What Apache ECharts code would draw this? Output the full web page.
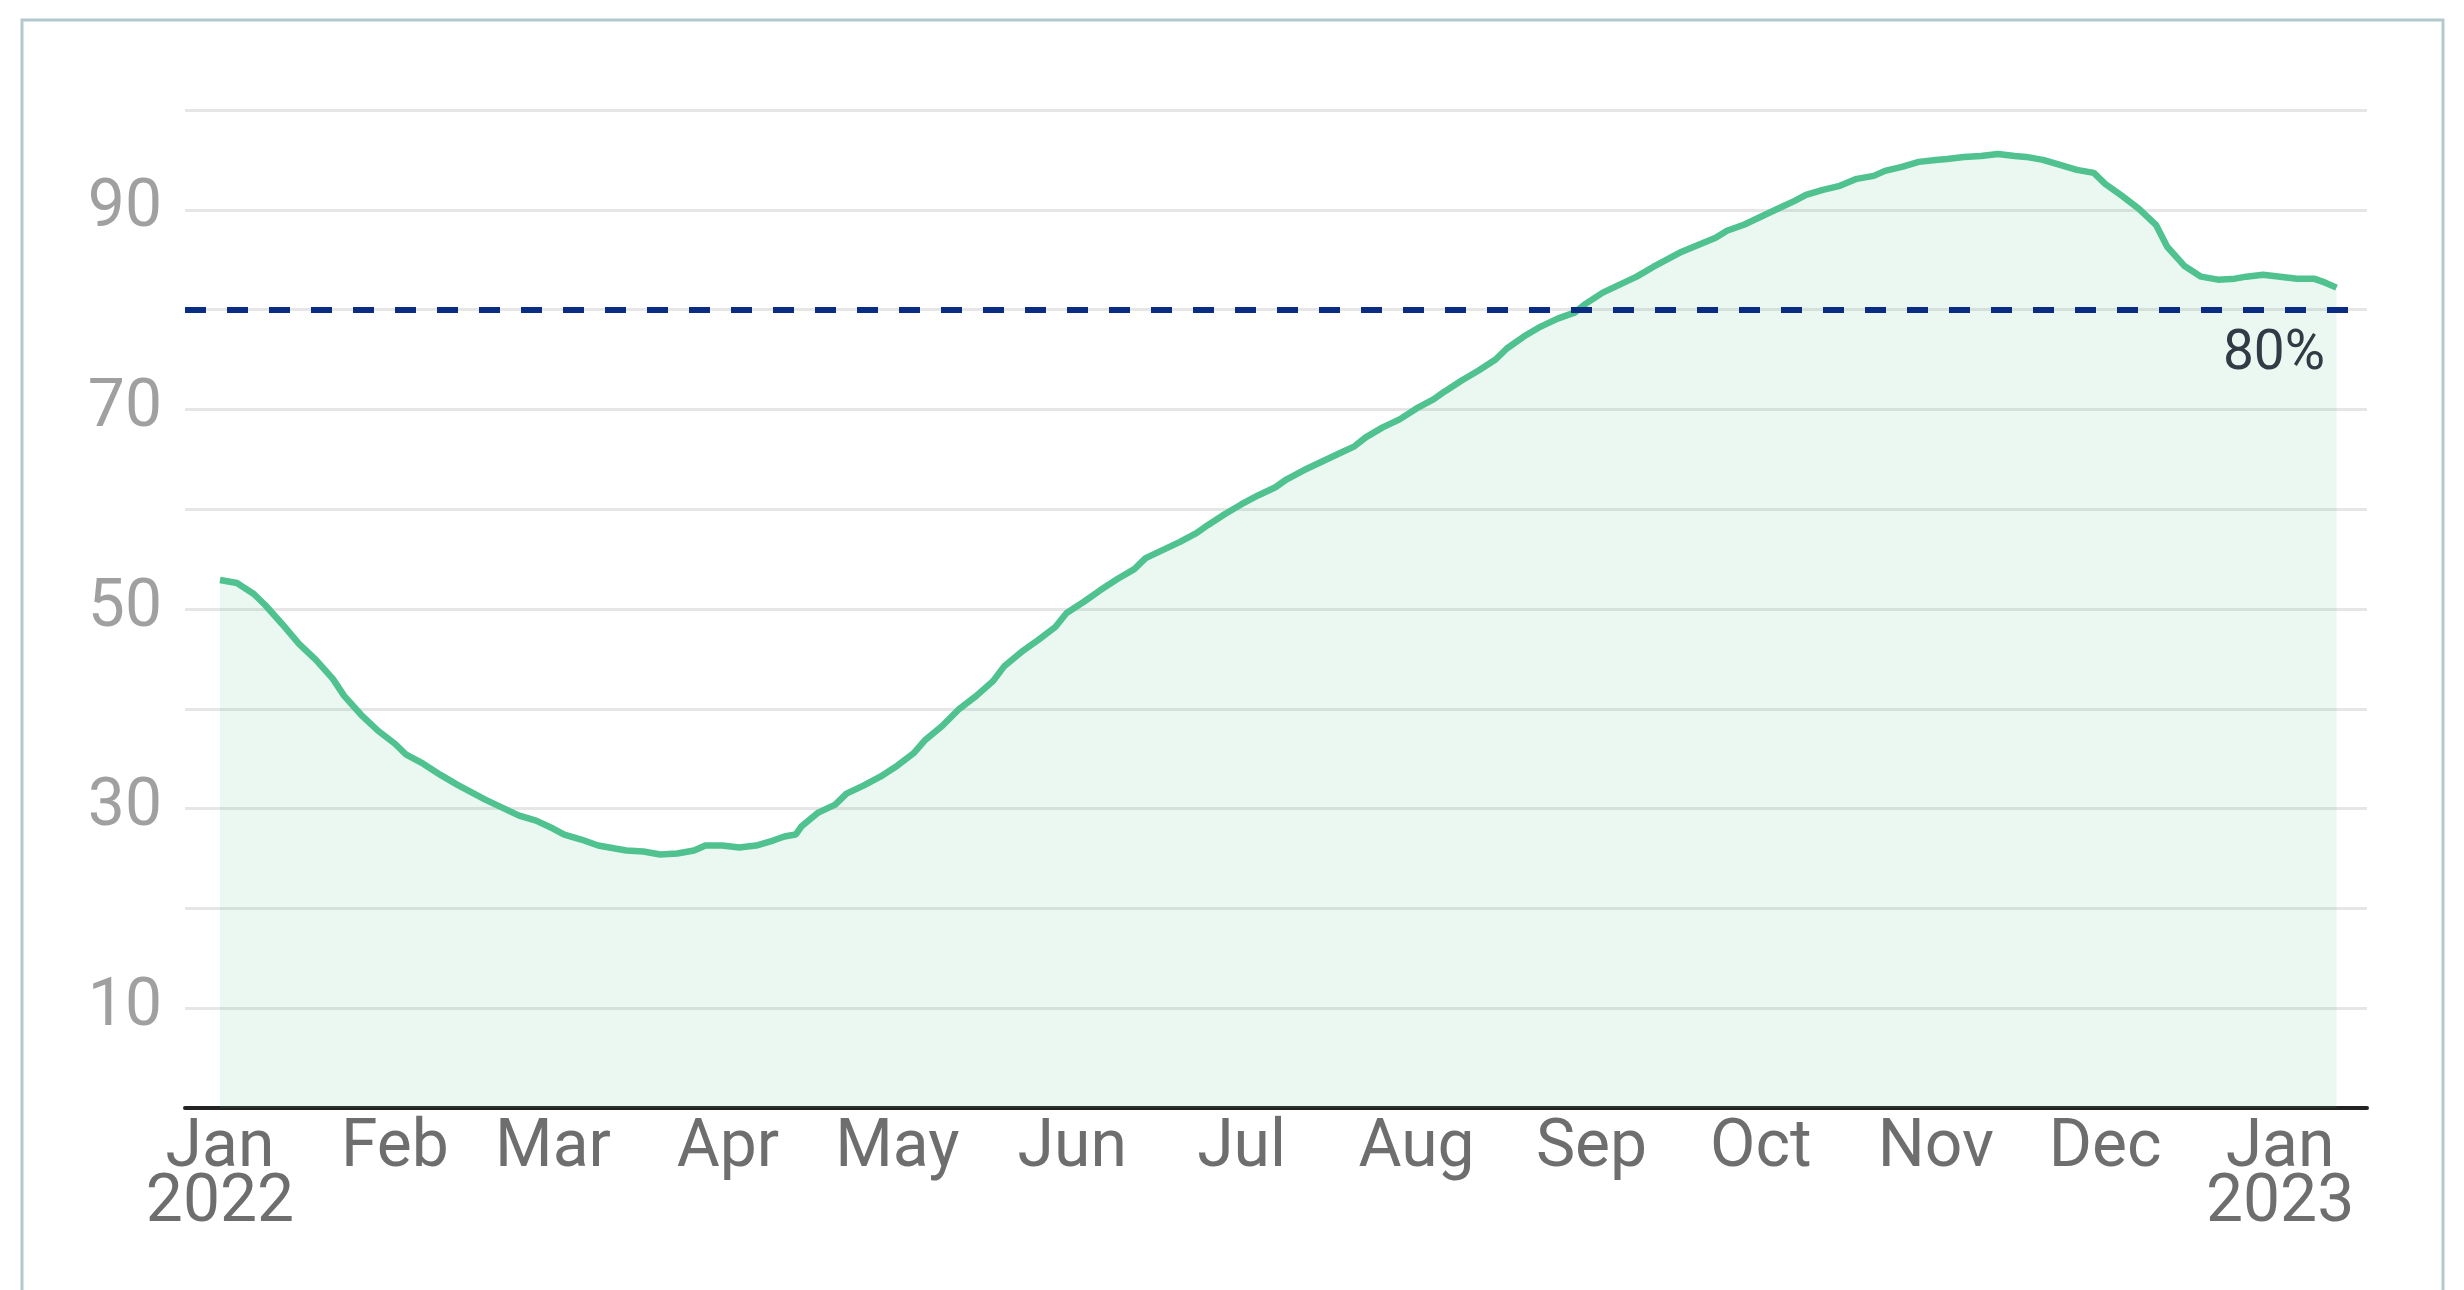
<!DOCTYPE html>
<html>
<head>
<meta charset="utf-8">
<title>share above 80%</title>
<script src="https://cdn.jsdelivr.net/npm/echarts@6/dist/echarts.min.js"></script>
<style>
  html, body { margin: 0; padding: 0; background: #fff; }
  #main { width: 2464px; height: 1290px; }
</style>
</head>
<body>
<div id="main"></div>
<script>
// day number counted from 1 Jan 2022
var days = [0, 3, 6, 8, 11, 14, 17, 20, 22, 25, 28, 31, 33, 36, 39, 42, 45, 47, 50, 53,
  56, 59, 61, 64, 67, 70, 72, 75, 78, 81, 84, 86, 89, 92, 95, 98, 100, 102, 103, 106,
  109, 111, 114, 117, 120, 123, 125, 128, 131, 134, 137, 139, 142, 145, 148, 150, 153, 156, 159, 162,
  164, 167, 170, 173, 175, 178, 181, 184, 187, 189, 192, 195, 198, 201, 203, 206, 209, 212, 215, 217,
  220, 223, 226, 228, 231, 234, 237, 240, 242, 245, 248, 251, 254, 256, 259, 262, 265, 267, 270, 273,
  276, 279, 281, 284, 287, 290, 293, 295, 298, 301, 304, 306, 309, 312, 315, 318, 320, 323, 326, 329,
  332, 334, 337, 340, 343, 345, 348, 351, 354, 357, 359, 362, 365, 368, 371, 373, 375]
var values = [52.9, 52.6, 51.5, 50.4, 48.5, 46.5, 44.9, 43.0, 41.3, 39.4, 37.8, 36.5, 35.4, 34.5, 33.4, 32.4, 31.5, 30.9, 30.1, 29.3,
  28.8, 28.0, 27.4, 26.9, 26.3, 26.0, 25.8, 25.7, 25.4, 25.5, 25.8, 26.3, 26.3, 26.1, 26.3, 26.8, 27.2, 27.4, 28.2, 29.6,
  30.4, 31.5, 32.3, 33.2, 34.3, 35.6, 36.9, 38.3, 40.0, 41.3, 42.8, 44.3, 45.7, 46.9, 48.2, 49.6, 50.7, 51.9, 53.0, 54.0,
  55.1, 55.9, 56.7, 57.6, 58.4, 59.5, 60.5, 61.4, 62.2, 63.0, 63.9, 64.7, 65.5, 66.3, 67.2, 68.2, 69.0, 70.1, 71.0, 71.8,
  72.9, 73.9, 75.0, 76.1, 77.3, 78.3, 79.1, 79.7, 80.6, 81.7, 82.5, 83.3, 84.3, 84.9, 85.8, 86.5, 87.2, 87.9, 88.5, 89.3,
  90.1, 90.9, 91.5, 92.0, 92.4, 93.1, 93.4, 93.9, 94.3, 94.8, 95.0, 95.1, 95.3, 95.4, 95.6, 95.4, 95.3, 95.0, 94.5, 94.0,
  93.7, 92.6, 91.4, 90.1, 88.5, 86.3, 84.4, 83.3, 83.0, 83.1, 83.3, 83.5, 83.3, 83.1, 83.1, 82.7, 82.2]

// month ticks (first day of each month)
var monthTicks = [0, 31, 59, 90, 120, 151, 181, 212, 243, 273, 304, 334, 365]
var monthLabels = ['Jan\n2022', 'Feb', 'Mar', 'Apr', 'May', 'Jun', 'Jul', 'Aug', 'Sep', 'Oct', 'Nov', 'Dec', 'Jan\n2023']
var yLabelValues = [10, 30, 50, 70, 90]
var target = 80

var chart = echarts.init(document.getElementById('main'))
var points = days.map(function (d, i) { return [d, values[i]] })

chart.setOption({
  animation: false,
  textStyle: { fontFamily: 'Roboto, "Noto Sans", sans-serif' },
  graphic: [{
    type: 'rect',
    shape: { x: 22, y: 20, width: 2421, height: 1400 },
    style: { fill: 'none', stroke: '#b3c9cd', lineWidth: 3 },
    silent: true
  }],
  grid: { left: 185, right: 97, top: 110, bottom: 182 },
  xAxis: {
    type: 'value',
    min: -6.2,
    max: 380.4,
    axisLine: { show: true, lineStyle: { color: '#222', width: 4 } },
    axisTick: { show: false },
    splitLine: { show: false },
    axisLabel: {
      customValues: monthTicks,
      color: '#6e6e6e',
      fontSize: 66,
      lineHeight: 55,
      margin: 14,
      formatter: function (v) {
        var i = monthTicks.indexOf(v)
        return i >= 0 ? monthLabels[i] : ''
      }
    }
  },
  yAxis: {
    type: 'value',
    min: 0,
    max: 100,
    interval: 10,
    axisLine: { show: false },
    axisTick: { show: false },
    splitLine: { lineStyle: { color: '#e6e6e6', width: 3 } },
    axisLabel: {
      color: '#a0a0a0',
      fontSize: 66,
      margin: 23,
      formatter: function (v) {
        return yLabelValues.indexOf(v) >= 0 ? String(v) : ''
      }
    }
  },
  series: [{
    type: 'line',
    data: points,
    showSymbol: false,
    lineStyle: { color: '#50c28f', width: 6.5 },
    areaStyle: { color: 'rgba(80,194,143,0.16)' },
    markLine: {
      silent: true,
      symbol: 'none',
      data: [{ yAxis: target }],
      lineStyle: { color: '#0a2c82', width: 6, type: [21, 21] },
      label: {
        position: 'insideEndBottom',
        distance: [42, 18],
        formatter: target + '%',
        color: '#303b45',
        fontSize: 55
      }
    }
  }]
})
</script>
</body>
</html>
